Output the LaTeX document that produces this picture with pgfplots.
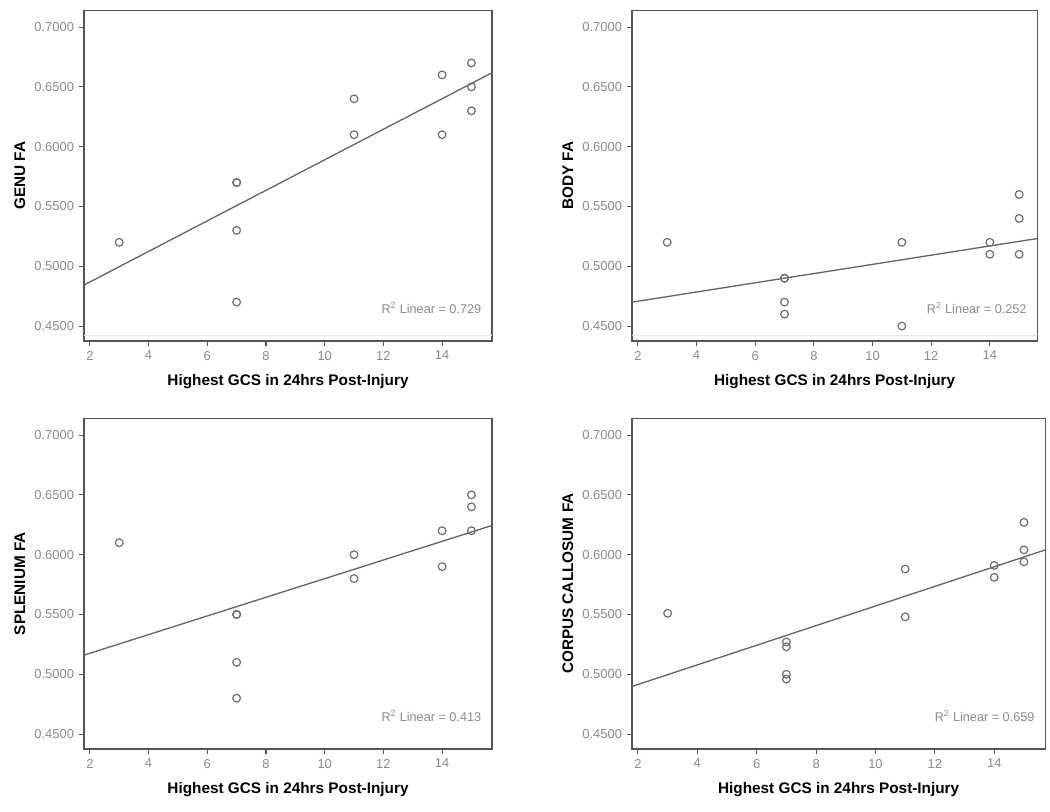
\documentclass[border=0pt]{standalone}
\usepackage{pgfplots}
\pgfplotsset{compat=1.18}
\usepackage{fontspec}
\setmainfont{Liberation Sans}

\definecolor{frame}{HTML}{555555}
\definecolor{ptgray}{HTML}{6E6E6E}
\definecolor{fitgray}{HTML}{666666}
\definecolor{ticklab}{HTML}{8A8A8A}

\pgfplotsset{
  gcs/.style={
    scale only axis,
    width=306pt, height=248pt,
    xmin=1.8, xmax=15.7,
    ymin=0.4375, ymax=0.714,
    xtick={2,4,6,8,10,12,14},
    ytick={0.45,0.5,0.55,0.6,0.65,0.7},
    xtick pos=bottom, ytick pos=left,
    tick align=outside,
    major tick length=4pt,
    every tick/.style={draw=frame, line width=0.8pt},
    axis line style={draw=frame, line width=1.1pt},
    /pgf/number format/assume math mode=true,
    yticklabel style={/pgf/number format/.cd, fixed, fixed zerofill, precision=4},
    tick label style={font=\fontsize{9.7}{11}\selectfont, text=ticklab},
    xlabel={Highest GCS in 24hrs Post-Injury},
    xlabel style={at={(axis description cs:0.5,0)}, anchor=center, yshift=-30.75pt,
      font=\bfseries\fontsize{11.5}{13}\selectfont},
    ylabel style={at={(axis description cs:-0.157,0.5)}, anchor=center,
      font=\bfseries\fontsize{11.5}{13}\selectfont},
  },
  pts/.style={only marks, mark=o, mark size=2.9pt, ptgray, mark options={line width=0.9pt}},
  fit/.style={no marks, fitgray, line width=1pt},
}

\newcommand{\rsq}[1]{\node[anchor=east, text=ticklab, font=\fontsize{9.5}{11}\selectfont]
  at (axis description cs:0.985,0.1) {R\textsuperscript{2} Linear = #1};}

\begin{document}
\begin{tikzpicture}
\path[use as bounding box] (-63pt,-46.5pt) rectangle (724.5pt,561.75pt);

% top left
\begin{axis}[gcs, at={(0pt,306pt)}, anchor=south west, ylabel={GENU FA}]
\addplot[gray!20, line width=0.5pt] coordinates {(1.8,0.4425) (15.7,0.4425)};
\addplot[pts] coordinates {
  (3,0.52) (7,0.57) (7,0.57) (7,0.53) (7,0.47) (11,0.64) (11,0.61)
  (14,0.66) (14,0.61) (15,0.67) (15,0.65) (15,0.63)};
\addplot[fit] coordinates {(1.8,0.4843) (15.7,0.6618)};
\rsq{0.729}
\end{axis}

% top right
\begin{axis}[gcs, at={(411pt,306pt)}, anchor=south west, width=304pt, xmax=15.62,
  ylabel={BODY FA}, ylabel style={at={(axis description cs:-0.158,0.5)}}]
\addplot[gray!20, line width=0.5pt] coordinates {(1.8,0.4425) (15.7,0.4425)};
\addplot[pts] coordinates {
  (3,0.52) (7,0.49) (7,0.49) (7,0.47) (7,0.46) (11,0.52) (11,0.45)
  (14,0.52) (14,0.51) (15,0.56) (15,0.54) (15,0.51)};
\addplot[fit] coordinates {(1.8,0.470) (15.62,0.5232)};
\rsq{0.252}
\end{axis}

% bottom left
\begin{axis}[gcs, at={(0pt,0pt)}, anchor=south west, ylabel={SPLENIUM FA}]
\addplot[pts] coordinates {
  (3,0.61) (7,0.55) (7,0.55) (7,0.51) (7,0.48) (11,0.60) (11,0.58)
  (14,0.62) (14,0.59) (15,0.65) (15,0.64) (15,0.62)};
\addplot[fit] coordinates {(1.8,0.516) (15.7,0.6244)};
\rsq{0.413}
\end{axis}

% bottom right
\begin{axis}[gcs, at={(411pt,0pt)}, anchor=south west, width=310pt, xmax=15.72,
  ylabel={CORPUS CALLOSUM FA}, ylabel style={at={(axis description cs:-0.155,0.5)}}]
\addplot[pts] coordinates {
  (3,0.551) (7,0.527) (7,0.523) (7,0.500) (7,0.496) (11,0.588) (11,0.548)
  (14,0.591) (14,0.581) (15,0.627) (15,0.604) (15,0.594)};
\addplot[fit] coordinates {(1.8,0.4898) (15.72,0.604)};
\rsq{0.659}
\end{axis}
\end{tikzpicture}
\end{document}
